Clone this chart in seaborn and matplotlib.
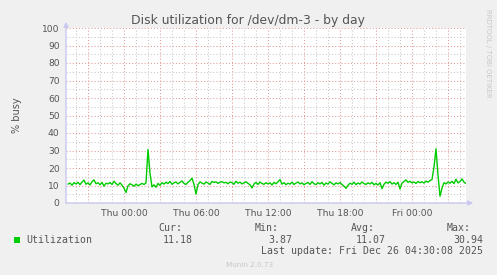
import matplotlib
matplotlib.use("Agg")
import math
import matplotlib.pyplot as plt
import seaborn as sns
import numpy as np
import pandas as pd
from matplotlib.patches import Rectangle

# ---------------- data ----------------
# hours relative to Thu 00:00; one sample every 10 minutes, last one at Fri 04:30
start_hour = -4.6667
step_hour = 1.0 / 6.0
utilization = [
    10.8, 11.4, 10.2, 11.6, 10.9, 11.8, 10.5, 11.9, 13.1, 10.7,
    11.5, 10.3, 12.2, 13.2, 11.0, 11.6, 10.4, 11.8, 9.6, 11.3,
    10.9, 11.7, 10.6, 12.4, 11.1, 10.2, 11.5, 10.2, 8.5, 6.0,
    9.8, 11.0, 10.4, 9.6, 10.8, 9.9, 10.5, 11.2, 10.6, 11.4,
    30.6, 17.0, 9.2, 10.4, 9.0, 11.2, 10.1, 11.6, 10.8, 11.9,
    11.1, 12.3, 10.7, 11.5, 12.0, 10.9, 11.8, 12.6, 11.2, 10.6,
    11.9, 12.8, 14.2, 10.6, 5.1, 10.5, 12.1, 11.3, 10.8, 12.0,
    11.4, 10.6, 12.3, 11.8, 12.1, 11.2, 11.9, 12.2, 11.5, 11.8,
    11.0, 12.0, 11.6, 10.7, 12.4, 11.3, 11.9, 10.9, 11.5, 12.1,
    11.2, 10.4, 8.6, 10.9, 11.8, 10.6, 12.0, 11.1, 10.7, 11.6,
    10.9, 11.5, 10.3, 11.8, 11.0, 12.1, 13.4, 10.8, 11.6, 10.5,
    11.3, 10.8, 11.9, 10.6, 11.4, 12.0, 10.9, 11.5, 10.4, 11.2,
    11.7, 10.6, 12.2, 11.0, 10.5, 11.6, 10.9, 11.8, 10.2, 11.4,
    10.8, 12.1, 11.2, 10.4, 11.5, 10.9, 11.7, 10.6, 9.6, 8.4,
    10.1, 11.3, 10.7, 11.9, 10.5, 11.4, 10.8, 12.0, 11.1, 10.6,
    11.5, 10.9, 11.8, 10.4, 11.2, 10.3, 11.6, 8.2, 10.7, 11.9,
    11.3, 12.2, 10.8, 11.6, 10.6, 11.9, 8.0, 11.4, 12.3, 13.2,
    11.8, 12.4, 11.5, 12.0, 11.2, 12.3, 11.6, 12.1, 11.4, 12.5,
    11.9, 12.8, 13.4, 20.5, 30.94, 16.0, 3.87, 8.5, 11.6, 10.9,
    12.0, 11.3, 12.4, 11.1, 13.6, 11.5, 12.2, 13.8, 11.9, 11.18,
]
hours = [start_hour + i * step_hour for i in range(len(utilization))]

x_range = [-4.8333, 28.5]
label_hours = [0, 6, 12, 18, 24]
label_texts = ["Thu 00:00", "Thu 06:00", "Thu 12:00", "Thu 18:00", "Fri 00:00"]
y_ticks = [0, 10, 20, 30, 40, 50, 60, 70, 80, 90, 100]

series_name = "Utilization"
stat_names = ["Cur:", "Min:", "Avg:", "Max:"]
stat_values = ["11.18", "3.87", "11.07", "30.94"]
title = "Disk utilization for /dev/dm-3 - by day"
y_label = "% busy"
last_update = "Last update: Fri Dec 26 04:30:08 2025"
footer = "Munin 2.0.73"
side_text = "RRDTOOL / TOBI OETIKER"

df = pd.DataFrame({"hour": hours, "value": utilization})

# ---------------- style ----------------
sns.set_theme(style="white")
plt.rcParams["font.family"] = ["DejaVu Sans"]

W, H = 497, 275
BG = "#F0F0F0"
TXT = "#555555"
GREEN = "#00CC00"
AXIS = "#C8C8F0"

fig = plt.figure(figsize=(W / 100, H / 100), dpi=100, facecolor=BG)
ax = fig.add_axes([66 / W, (H - 203) / H, 400 / W, 175 / H])
ax.set_facecolor("white")

sns.lineplot(data=df, x="hour", y="value", ax=ax, color=GREEN, linewidth=1.0, zorder=5)

ax.set_xlim(*x_range)
ax.set_ylim(0, 100)

major_x = list(range(math.ceil(x_range[0] / 3) * 3, int(x_range[1]) + 1, 3))
minor_x = list(range(math.ceil(x_range[0]), int(x_range[1]) + 1, 1))
ax.set_xticks(major_x)
ax.set_xticks(minor_x, minor=True)
ax.set_xticklabels([label_texts[label_hours.index(h)] if h in label_hours else "" for h in major_x])
ax.set_yticks(y_ticks)
ax.set_yticks(list(range(5, 100, 10)), minor=True)
ax.set_yticklabels([str(v) for v in y_ticks])

ax.grid(which="minor", color="#C8C8C8", linestyle=(0, (1, 2)), linewidth=0.75, zorder=0)
ax.grid(which="major", color="#E29A9A", linestyle=(0, (1, 2)), linewidth=0.75, zorder=1)
ax.set_axisbelow(True)

ax.tick_params(axis="both", which="both", length=0, labelsize=6.6, colors=TXT)
ax.tick_params(axis="y", pad=4.5)
ax.tick_params(axis="x", pad=4)
ax.set_xlabel("")
ax.set_ylabel("")
for s in ax.spines.values():
    s.set_visible(False)

# axis arrows
ax.annotate("", xy=(0, 1.035), xytext=(0, 0), xycoords="axes fraction",
            arrowprops=dict(arrowstyle="-|>", color=AXIS, lw=1.0, mutation_scale=7,
                            shrinkA=0, shrinkB=0), annotation_clip=False)
ax.annotate("", xy=(1.018, 0), xytext=(0, 0), xycoords="axes fraction",
            arrowprops=dict(arrowstyle="-|>", color=AXIS, lw=1.0, mutation_scale=7,
                            shrinkA=0, shrinkB=0), annotation_clip=False)

def fx(px):
    return px / W

def fy(py):
    return 1 - py / H

fig.text(fx(248), fy(24), title, ha="center", va="baseline", fontsize=8.9, color=TXT)
fig.text(fx(17), fy(115), y_label, ha="center", va="center", rotation=90, fontsize=7, color=TXT)
fig.text(fx(488), fy(53), side_text, ha="center", va="center", rotation=270, fontsize=5, color="#C8C8C8")

mono = "DejaVu Sans Mono"
fig.patches.append(Rectangle((fx(14), fy(243)), 6 / W, 6 / H, transform=fig.transFigure,
                             facecolor=GREEN, edgecolor="none"))
fig.text(fx(26), fy(243), series_name, ha="left", va="baseline", fontsize=7.1, family=mono, color=TXT)
name_x = [158, 255, 351, 447]
val_right = [193, 292, 386, 483]
for nx, vr, n, v in zip(name_x, val_right, stat_names, stat_values):
    fig.text(fx(nx), fy(231), n, ha="left", va="baseline", fontsize=7.1, family=mono, color=TXT)
    fig.text(fx(vr), fy(243), v, ha="right", va="baseline", fontsize=7.1, family=mono, color=TXT)
fig.text(fx(483), fy(254.5), last_update, ha="right", va="baseline", fontsize=7.1, family=mono, color=TXT)
fig.text(fx(250), fy(267), footer, ha="center", va="baseline", fontsize=5.2, color="#C8C8C8")

fig.savefig("out.png", dpi=100, facecolor=BG)
